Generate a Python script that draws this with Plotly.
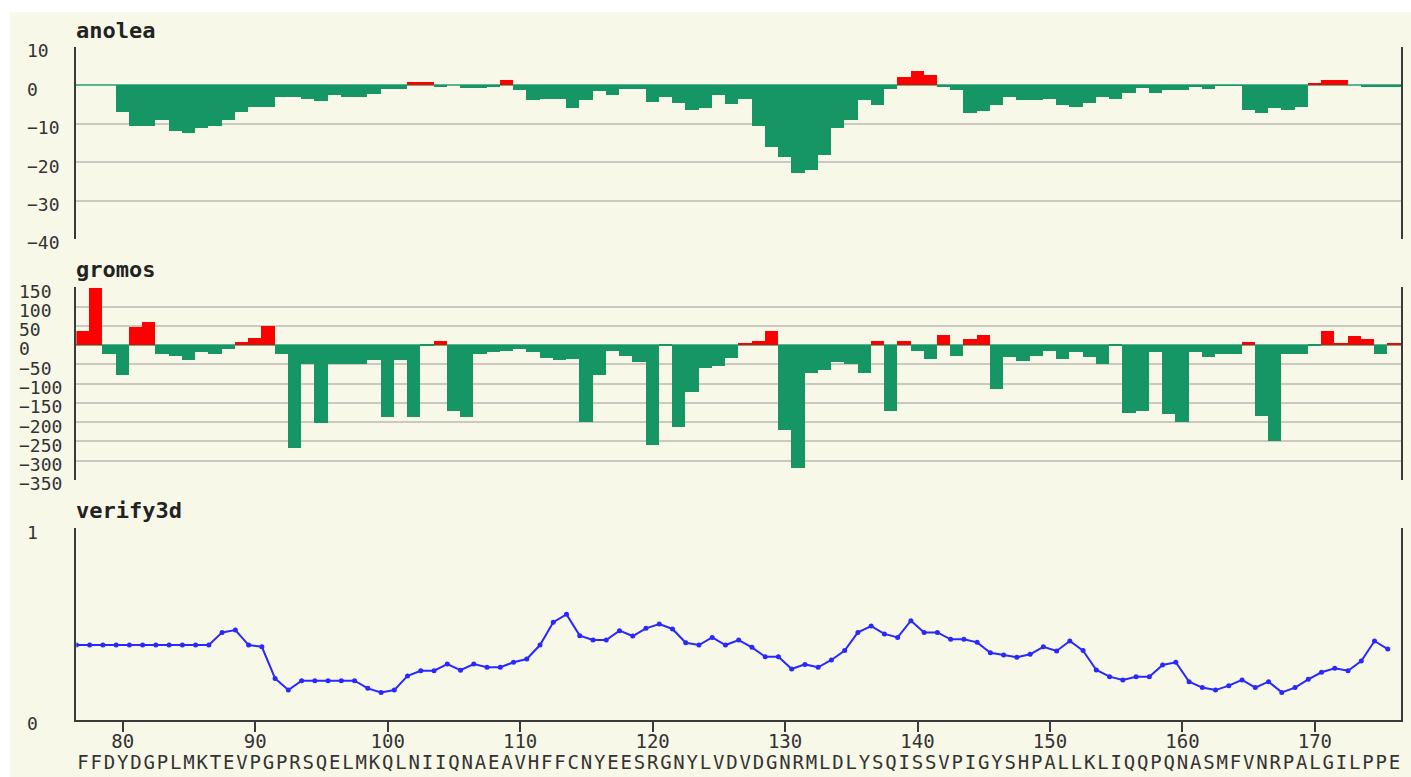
import plotly.graph_objects as go

# ---------------- data ----------------
residues = list(range(77, 177))
sequence = "FFDYDGPLMKTEVPGPRSQELMKQLNIIQNAEAVHFFCNYEESRGNYLVDVDGNRMLDLYSQISSVPIGYSHPALLKLIQQPQNASMFVNRPALGILPPE"

anolea = [
    0, 0, 0, -7, -10.5, -10.5, -9, -12, -12.5, -11,
    -10.5, -9, -7, -5.5, -5.5, -3, -3, -3.5, -4, -2.6,
    -3, -3, -2.3, -0.9, -0.9, 0.8, 0.8, -0.3, 0, -0.7,
    -0.6, -0.2, 1.3, -1.2, -3.8, -3.5, -3.5, -5.9, -3.8, -1.5,
    -2.4, -0.9, -0.9, -4.4, -3, -4.5, -6.4, -6, -2.6, -4.9,
    -3.5, -10.5, -16.1, -18.6, -22.8, -22, -18, -11, -9, -3.8,
    -5, -0.9, 2.2, 3.7, 2.7, -0.2, -1.2, -7.1, -6.6, -5,
    -3, -3.8, -3.8, -3.5, -5, -5.5, -4.5, -3, -3.5, -2,
    -0.6, -2, -1.3, -1.2, -0.4, -0.9, -0.1, -0.1, -6.5, -7.1,
    -6, -6.5, -5.5, 0.7, 1.3, 1.3, 0, -0.3, -0.3, -0.3,
]

gromos = [
    35, 148, -23, -78, 46, 59, -23, -28, -39, -19,
    -23, -12, 7, 17, 50, -23, -268, -49, -203, -49,
    -49, -49, -39, -188, -39, -188, -2, 9, -171, -188,
    -24, -19, -15, -10, -19, -35, -39, -36, -201, -78,
    -16, -29, -45, -259, -2, -214, -123, -61, -54, -35,
    5, 11, 35, -222, -319, -74, -65, -45, -51, -74,
    10, -171, 10, -15, -38, 26, -28, 16, 26, -114,
    -32, -43, -28, -17, -38, -19, -32, -49, -2, -177,
    -171, -19, -179, -199, -19, -32, -23, -23, 7, -184,
    -250, -23, -23, -2, 35, 5, 22, 16, -23, 6,
]

verify3d = [
    0.391, 0.391, 0.391, 0.391, 0.391, 0.391, 0.391, 0.391, 0.391, 0.391,
    0.391, 0.457, 0.469, 0.391, 0.382, 0.217, 0.156, 0.205, 0.205, 0.205,
    0.205, 0.205, 0.165, 0.144, 0.156, 0.230, 0.257, 0.257, 0.292, 0.260,
    0.292, 0.275, 0.275, 0.301, 0.318, 0.391, 0.510, 0.551, 0.440, 0.417,
    0.417, 0.466, 0.438, 0.478, 0.501, 0.475, 0.403, 0.391, 0.431, 0.391,
    0.417, 0.379, 0.330, 0.330, 0.266, 0.290, 0.275, 0.313, 0.362, 0.457,
    0.490, 0.449, 0.431, 0.518, 0.457, 0.457, 0.421, 0.421, 0.405, 0.351,
    0.339, 0.327, 0.343, 0.382, 0.360, 0.412, 0.362, 0.261, 0.226, 0.209,
    0.226, 0.226, 0.287, 0.301, 0.200, 0.169, 0.156, 0.179, 0.209, 0.169,
    0.200, 0.144, 0.169, 0.212, 0.249, 0.270, 0.257, 0.308, 0.412, 0.370,
]

x_ticks = list(range(80, 171, 10))
anolea_ticks = [10, 0, -10, -20, -30, -40]
gromos_ticks = [150, 100, 50, 0, -50, -100, -150, -200, -250, -300, -350]
verify_ticks = [0, 1]

# ---------------- style ----------------
W, H = 1411, 777
BG = "#f8f8e8"
GREEN = "#169664"
RED = "#ff0000"
BLUE = "#2828ff"
GRID = "#c9c9c1"
AXIS = "#3a3a3a"
TXT = "#333333"
MONO = "DejaVu Sans Mono"


def px(xp):
    return xp / W


def py(yp):
    return 1 - yp / H


XDOM = [px(76.4), px(1401)]
XRANGE = [76.5, 176.5]

fig = go.Figure()

fig.add_trace(go.Bar(
    x=residues, y=anolea, width=1,
    marker=dict(color=[RED if v > 0 else GREEN for v in anolea], line=dict(width=0)),
    xaxis="x", yaxis="y", showlegend=False, hoverinfo="skip"))
fig.add_trace(go.Bar(
    x=residues, y=gromos, width=1,
    marker=dict(color=[RED if v > 0 else GREEN for v in gromos], line=dict(width=0)),
    xaxis="x2", yaxis="y2", showlegend=False, hoverinfo="skip"))
fig.add_trace(go.Scatter(
    x=[r - 0.5 for r in residues], y=verify3d, mode="lines+markers",
    line=dict(color=BLUE, width=2), marker=dict(color=BLUE, size=5),
    xaxis="x3", yaxis="y3", showlegend=False, hoverinfo="skip"))

# helper traces so that overlay axes (labels) are rendered
for xa, ya in [("x", "y4"), ("x2", "y5"), ("x3", "y6"), ("x4", "y3")]:
    fig.add_trace(go.Scatter(x=[None], y=[None], xaxis=xa, yaxis=ya,
                             showlegend=False, hoverinfo="skip"))

hidden_x = dict(domain=XDOM, range=XRANGE, showticklabels=False, showgrid=False,
                zeroline=False, showline=False, ticks="", fixedrange=True)


def main_y(dom, rng, tv, zl):
    return dict(domain=dom, range=rng, tickvals=tv, showticklabels=False,
                showgrid=True, gridcolor=GRID, gridwidth=2,
                showline=True, mirror=True, linecolor=AXIS, linewidth=2,
                zeroline=zl, zerolinecolor="#55b890", zerolinewidth=2,
                ticks="", fixedrange=True)


def label_y(over, rng, tv, pos, size):
    return dict(overlaying=over, side="right", anchor="free", position=pos,
                range=rng, tickvals=tv, showgrid=False, showline=False,
                zeroline=False, ticks="", fixedrange=True, ticklabelshift=4,
                tickfont=dict(family=MONO, size=size, color=TXT))


D1 = [py(239), py(47)]
D2 = [py(480), py(287.3)]
D3 = [py(720), py(528.3)]

fig.update_layout(
    width=W, height=H,
    margin=dict(l=0, r=0, t=0, b=0, autoexpand=False),
    paper_bgcolor="white", plot_bgcolor="rgba(0,0,0,0)",
    bargap=0, hovermode=False,
    xaxis=dict(hidden_x, anchor="y"),
    xaxis2=dict(hidden_x, anchor="y2"),
    xaxis3=dict(domain=XDOM, range=XRANGE, anchor="y3", tickvals=x_ticks,
                ticktext=[str(t) for t in x_ticks], ticks="outside", ticklen=10,
                tickwidth=2, tickcolor=AXIS, showline=True, linecolor=AXIS, linewidth=2,
                showgrid=False, zeroline=False, tickangle=0, fixedrange=True,
                ticklabelstandoff=-7,
                tickfont=dict(family=MONO, size=19, color=TXT)),
    xaxis4=dict(overlaying="x3", anchor="free", position=py(749), side="bottom",
                range=XRANGE, tickvals=residues, ticktext=list(sequence),
                ticks="", showline=False, showgrid=False, zeroline=False,
                tickangle=0, fixedrange=True,
                tickfont=dict(family=MONO, size=19, color=TXT)),
    yaxis=main_y(D1, [-40, 10], anolea_ticks, True),
    yaxis2=main_y(D2, [-350, 150], gromos_ticks, True),
    yaxis3=dict(main_y(D3, [0, 1], verify_ticks, False), showgrid=True),
    yaxis4=label_y("y", [-40, 10], anolea_ticks, px(26), 18),
    yaxis5=label_y("y2", [-350, 150], gromos_ticks, px(18), 18),
    yaxis6=label_y("y3", [0, 1], verify_ticks, px(26), 18),
    shapes=[dict(type="rect", xref="paper", yref="paper",
                 x0=px(10), x1=1, y0=0, y1=py(12),
                 fillcolor=BG, line=dict(width=0), layer="below")],
    annotations=[
        dict(text="<b>anolea</b>", x=px(74), y=py(31), xref="paper", yref="paper",
             xanchor="left", yanchor="middle", showarrow=False,
             font=dict(family=MONO, size=22, color="#222222")),
        dict(text="<b>gromos</b>", x=px(74), y=py(269), xref="paper", yref="paper",
             xanchor="left", yanchor="middle", showarrow=False,
             font=dict(family=MONO, size=22, color="#222222")),
        dict(text="<b>verify3d</b>", x=px(74), y=py(510), xref="paper", yref="paper",
             xanchor="left", yanchor="middle", showarrow=False,
             font=dict(family=MONO, size=22, color="#222222")),
    ],
)

fig.write_html("out.html", config={"displayModeBar": False},
               post_script="document.body.style.margin='0';document.body.style.overflow='hidden';")
